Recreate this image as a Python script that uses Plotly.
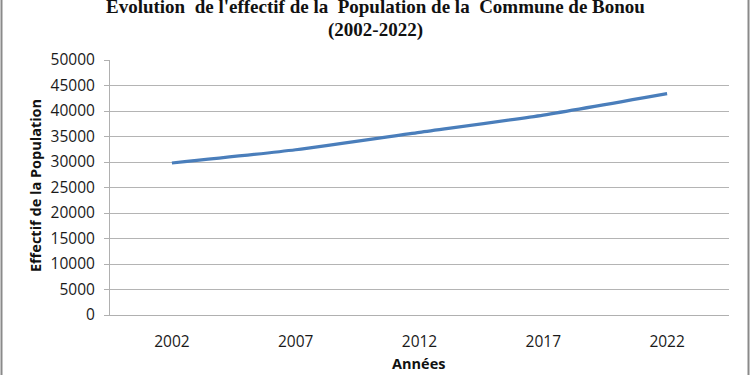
import plotly.graph_objects as go

years = ["2002", "2007", "2012", "2017", "2022"]
population = [29800, 32400, 35800, 39200, 43400]
y_ticks = [0, 5000, 10000, 15000, 20000, 25000, 30000, 35000, 40000, 45000, 50000]

W, H = 750, 375
L, R, T, B = 110, 21, 60, 60
pw, ph = W - L - R, H - T - B

def px_x(p):
    return (p - L) / pw

def px_y(p):
    return (H - B - p) / ph

fig = go.Figure()
fig.add_trace(go.Scatter(
    x=years, y=population, mode="lines",
    line=dict(color="#4a7ebb", width=3.2, shape="spline", smoothing=0.6),
    showlegend=False, hoverinfo="skip",
))

sans = "Open Sans, Liberation Sans, sans-serif"
serif = "Liberation Serif, Times New Roman, serif"

fig.update_layout(
    width=W, height=H,
    margin=dict(l=L, r=R, t=T, b=B),
    paper_bgcolor="white", plot_bgcolor="white",
    xaxis=dict(
        type="category", range=[-0.5, 4.5],
        showgrid=False, zeroline=False,
        showline=True, linecolor="#b0b0b0", linewidth=1,
        ticks="outside", ticklen=8, tickcolor="rgba(0,0,0,0)",
        tickfont=dict(family=sans, size=15.5, color="#1a1a1a"),
        ticklabelstandoff=4,
    ),
    yaxis=dict(
        range=[0, 50000], tickvals=y_ticks,
        ticktext=[str(v) for v in y_ticks],
        showgrid=True, gridcolor="#b4b4b4", gridwidth=1,
        zeroline=False,
        showline=True, linecolor="#b0b0b0", linewidth=1,
        ticks="outside", ticklen=5, tickcolor="#b0b0b0",
        tickfont=dict(family=sans, size=15.5, color="#1a1a1a"),
        ticklabelstandoff=6,
    ),
    annotations=[
        dict(text="<b>Evolution  de l'effectif de la  Population de la  Commune de Bonou</b>",
             xref="paper", yref="paper", x=px_x(375), y=px_y(6),
             xanchor="center", yanchor="middle", showarrow=False,
             font=dict(family=serif, size=19, color="#111")),
        dict(text="<b>(2002-2022)</b>",
             xref="paper", yref="paper", x=px_x(375), y=px_y(30),
             xanchor="center", yanchor="middle", showarrow=False,
             font=dict(family=serif, size=19, color="#111")),
        dict(text="<b>Effectif de la Population</b>",
             xref="paper", yref="paper", x=px_x(35), y=px_y(186),
             xanchor="center", yanchor="middle", showarrow=False, textangle=-90,
             font=dict(family=sans, size=14.5, color="#111")),
        dict(text="<b>Années</b>",
             xref="paper", yref="paper", x=px_x(418), y=px_y(363),
             xanchor="center", yanchor="middle", showarrow=False,
             font=dict(family=sans, size=14.5, color="#111")),
    ],
    shapes=[
        dict(type="line", xref="paper", yref="paper",
             x0=px_x(1.5), x1=px_x(1.5), y0=px_y(-5), y1=px_y(380),
             line=dict(color="#8a8a8a", width=2)),
        dict(type="line", xref="paper", yref="paper",
             x0=px_x(748.5), x1=px_x(748.5), y0=px_y(-5), y1=px_y(380),
             line=dict(color="#8a8a8a", width=2)),
    ],
)

fig.write_html(
    "out.html",
    config={"displayModeBar": False},
    post_script="document.body.style.margin='0';document.body.style.padding='0';",
)
